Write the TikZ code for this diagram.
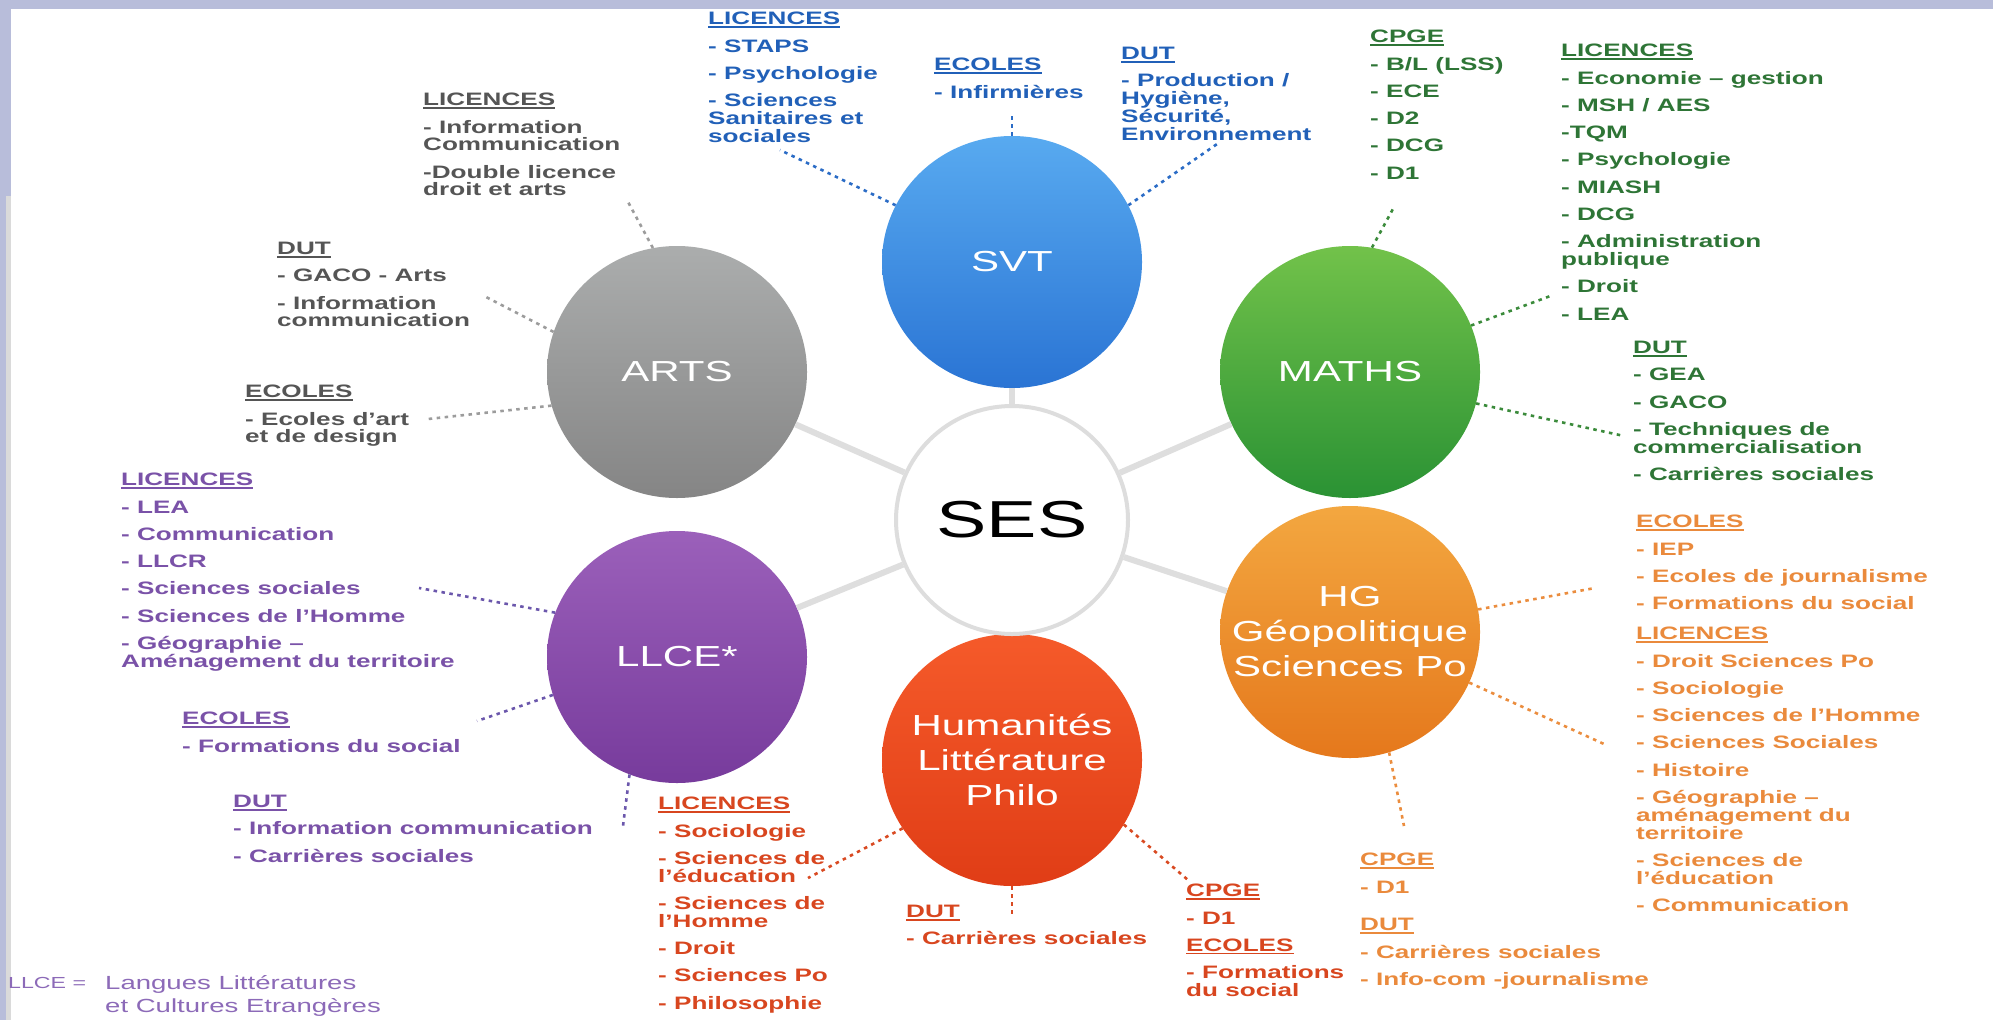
\documentclass[tikz,border=0pt]{standalone}
\usepackage{fontspec}
\setmainfont{Liberation Sans}[FakeStretch=1.45]
\usetikzlibrary{shapes.geometric}
\definecolor{bgl}{HTML}{B8BDDA}
\definecolor{stripg}{HTML}{DADADA}
\definecolor{svtA}{HTML}{58AAF0}\definecolor{svtB}{HTML}{2A74D4}
\definecolor{artA}{HTML}{ABADAD}\definecolor{artB}{HTML}{858585}
\definecolor{matA}{HTML}{72C24A}\definecolor{matB}{HTML}{2A9234}
\definecolor{llcA}{HTML}{9B60BA}\definecolor{llcB}{HTML}{773B9C}
\definecolor{hgA}{HTML}{F3A740}\definecolor{hgB}{HTML}{E5781C}
\definecolor{humA}{HTML}{F55A2A}\definecolor{humB}{HTML}{E03D16}
\definecolor{sesl}{HTML}{DDDDDD}
\definecolor{spk}{HTML}{DEDEDE}
\definecolor{gtx}{HTML}{555555}\definecolor{btx}{HTML}{2160B8}
\definecolor{mtx}{HTML}{2E7536}\definecolor{otx}{HTML}{EA8A3C}
\definecolor{rtx}{HTML}{D8461F}\definecolor{ptx}{HTML}{7A52A8}
\definecolor{ftx}{HTML}{8C6AB8}
\definecolor{gdot}{HTML}{9C9C9C}\definecolor{bdot}{HTML}{2B6CC6}
\definecolor{mdot}{HTML}{3B8B3B}\definecolor{odot}{HTML}{EB8D3E}
\definecolor{rdot}{HTML}{D94A22}\definecolor{pdot}{HTML}{6B57AC}
\newcommand\hd[1]{\setbox0=\hbox{#1}\rlap{\rule[-3pt]{\wd0}{1.4pt}}\box0}
\newcommand\nl{\\[9.5pt]}
\newcommand\lfont{\bfseries\fontsize{18}{17.8}\selectfont\lineskiplimit=-20pt}
\begin{document}
\begin{tikzpicture}[x=1pt,y=-1pt,
  lst/.style={anchor=north west,inner sep=0pt,align=left,font=\lfont},
  bub/.style={ellipse,minimum width=260pt,minimum height=252pt,inner sep=0pt},
  blbl/.style={text=white,font=\fontsize{29}{35}\selectfont,align=center,inner sep=0pt},
  spoke/.style={line width=6pt,draw=spk},
  dotc/.style={line width=2.6pt,dash pattern=on 3.5pt off 4.5pt}]
\fill[bgl] (0,0) rectangle (1993,1020);
\fill[white] (11,9) rectangle (1993,1020);
\fill[stripg] (6,196) rectangle (11,1020);
\useasboundingbox (0,0) rectangle (1993,1020);

% circles
\node[bub,top color=svtA,bottom color=svtB] (svt) at (1012,262) {};
\node[bub,top color=artA,bottom color=artB] (arts) at (677,372) {};
\node[bub,top color=matA,bottom color=matB] (maths) at (1350,372) {};
\node[bub,top color=llcA,bottom color=llcB] (llce) at (677,657) {};
\node[bub,top color=hgA,bottom color=hgB] (hg) at (1350,632) {};
\node[bub,top color=humA,bottom color=humB] (hum) at (1012,760) {};
\node[ellipse,minimum width=232pt,minimum height=228pt,inner sep=0pt,draw=sesl,line width=4pt,fill=white] (ses) at (1012,520) {};

\node[blbl] (svtT) at (svt) {SVT};
\node[blbl] (artsT) at (arts) {ARTS};
\node[blbl] (mathsT) at (maths) {MATHS};
\node[blbl] (llceT) at (llce) {LLCE*};
\node[blbl] (hgT) at (hg) {HG\\Géopolitique\\Sciences Po};
\node[blbl] (humT) at (hum) {Humanités\\Littérature\\Philo};
\node[inner sep=0pt,font=\fontsize{52}{52}\selectfont,text=black] (sesT) at (ses) {SES};

\foreach \n in {svt,arts,maths,llce,hg,hum} \draw[spoke] (ses) -- (\n);

% ARTS
\node[lst,text=gtx] (aLic) at (423,93) {\hd{LICENCES}\nl- Information\\Communication\nl-Double licence\\droit et arts};
\node[lst,text=gtx] (aDut) at (277,242) {\hd{DUT}\nl- GACO - Arts\nl- Information\\communication};
\node[lst,text=gtx] (aEco) at (245,385) {\hd{ECOLES}\nl- Ecoles d’art\\et de design};
\coordinate (caL) at (627,200);
\coordinate (caD) at (486,297);
\coordinate (caE) at (428,419);
\draw[dotc,draw=gdot] (arts.101) -- (caL);
\draw[dotc,draw=gdot] (arts.162) -- (caD);
\draw[dotc,draw=gdot] (arts.195) -- (caE);

% SVT
\node[lst,text=btx] (sLic) at (708,12) {\hd{LICENCES}\nl- STAPS\nl- Psychologie\nl- Sciences\\Sanitaires et\\sociales};
\node[lst,text=btx] (sEco) at (934,58) {\hd{ECOLES}\nl- Infirmières};
\node[lst,text=btx] (sDut) at (1121,47) {\hd{DUT}\nl- Production /\\Hygiène,\\Sécurité,\\Environnement};
\coordinate (csL) at (780,150);
\coordinate (csE) at (1012,114);
\coordinate (csD) at (1220,142);
\draw[dotc,draw=bdot] (svt.154) -- (csL);
\draw[dotc,draw=bdot] (svt.90) -- (csE);
\draw[dotc,draw=bdot] (svt.26) -- (csD);

% MATHS
\node[lst,text=mtx] (mCp) at (1370,30) {\hd{CPGE}\nl- B/L (LSS)\nl- ECE\nl- D2\nl- DCG\nl- D1};
\node[lst,text=mtx] (mLic) at (1561,44) {\hd{LICENCES}\nl- Economie – gestion\nl- MSH / AES\nl-TQM\nl- Psychologie\nl- MIASH\nl- DCG\nl- Administration\\publique\nl- Droit\nl- LEA};
\node[lst,text=mtx] (mDut) at (1633,341) {\hd{DUT}\nl- GEA\nl- GACO\nl- Techniques de\\commercialisation\nl- Carrières sociales};
\coordinate (cmC) at (1394,207);
\coordinate (cmL) at (1553,295);
\coordinate (cmD) at (1624,436);
\draw[dotc,draw=mdot] (maths.80) -- (cmC);
\draw[dotc,draw=mdot] (maths.21) -- (cmL);
\draw[dotc,draw=mdot] (maths.-14) -- (cmD);

% HG
\node[lst,text=otx] (hEco) at (1636,515) {\hd{ECOLES}\nl- IEP\nl- Ecoles de journalisme\nl- Formations du social};
\node[lst,text=otx] (hLic) at (1636,627) {\hd{LICENCES}\nl- Droit Sciences Po\nl- Sociologie\nl- Sciences de l’Homme\nl- Sciences Sociales\nl- Histoire\nl- Géographie –\\aménagement du\\territoire\nl- Sciences de\\l’éducation\nl- Communication};
\node[lst,text=otx] (hCp) at (1360,853) {\hd{CPGE}\nl- D1\\[20pt]\hd{DUT}\nl- Carrières sociales\nl- Info-com -journalisme};
\coordinate (chE) at (1595,588);
\coordinate (chL) at (1604,744);
\coordinate (chC) at (1404,826);
\draw[dotc,draw=odot] (hg.10) -- (chE);
\draw[dotc,draw=odot] (hg.-23) -- (chL);
\draw[dotc,draw=odot] (hg.-72) -- (chC);

% Humanites
\node[lst,text=rtx] (uLic) at (658,797) {\hd{LICENCES}\nl- Sociologie\nl- Sciences de\\l’éducation\nl- Sciences de\\l’Homme\nl- Droit\nl- Sciences Po\nl- Philosophie};
\node[lst,text=rtx] (uDut) at (906,905) {\hd{DUT}\nl- Carrières sociales};
\node[lst,text=rtx] (uCp) at (1186,884) {\hd{CPGE}\nl- D1\nl\hd{ECOLES}\nl- Formations\\du social};
\coordinate (cuL) at (808,878);
\coordinate (cuD) at (1012,918);
\coordinate (cuC) at (1188,880);
\draw[dotc,draw=rdot] (hum.212) -- (cuL);
\draw[dotc,draw=rdot] (hum.-90) -- (cuD);
\draw[dotc,draw=rdot] (hum.-30) -- (cuC);

% LLCE
\node[lst,text=ptx] (lLic) at (121,473) {\hd{LICENCES}\nl- LEA\nl- Communication\nl- LLCR\nl- Sciences sociales\nl- Sciences de l’Homme\nl- Géographie –\\Aménagement du territoire};
\node[lst,text=ptx] (lEco) at (182,712) {\hd{ECOLES}\nl- Formations du social};
\node[lst,text=ptx] (lDut) at (233,795) {\hd{DUT}\nl- Information communication\nl- Carrières sociales};
\coordinate (clL) at (419,588);
\coordinate (clE) at (477,721);
\coordinate (clD) at (623,826);
\draw[dotc,draw=pdot] (llce.160) -- (clL);
\draw[dotc,draw=pdot] (llce.197) -- (clE);
\draw[dotc,draw=pdot] (llce.248) -- (clD);

% footnote
\node[anchor=north west,inner sep=0pt,text=ftx,font=\fontsize{16}{23}\selectfont] (fnA) at (8,977) {LLCE =};
\node[anchor=north west,inner sep=0pt,text=ftx,font=\fontsize{19}{23}\selectfont,align=left] (fnB) at (105,975) {Langues Littératures\\et Cultures Etrangères};
\end{tikzpicture}
\end{document}
